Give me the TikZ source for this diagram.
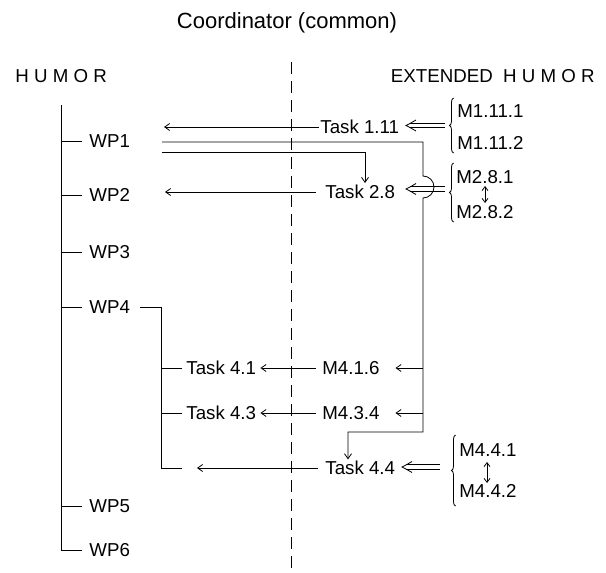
\documentclass[tikz,border=0pt]{standalone}
\usepackage{fontspec}
\setmainfont{Liberation Sans}
\usetikzlibrary{arrows.meta,decorations.pathreplacing}
\begin{document}
\begin{tikzpicture}[x=1pt,y=-1pt,line width=0.8pt,
  lbl/.style={inner sep=1.5pt,text height=13.4pt,text depth=0pt,font=\fontsize{18.7}{22}\selectfont},
  arr/.style={-{Straight Barb[length=5pt,width=7pt]}},
  brc/.style={decorate,decoration={brace,amplitude=4pt}},
  upd/.style={{Straight Barb[length=4pt,width=6pt]}-{Straight Barb[length=4pt,width=6pt]}},
  dsh/.style={dash pattern=on 12pt off 7pt}]
\useasboundingbox (0,0) rectangle (606,573);

% texts
\node[font=\fontsize{22}{26}\selectfont] (title) at (287,23) {Coordinator (common)};
\node[lbl,anchor=west] (humor) at (13.5,75.5) {H U M O R};
\node[lbl,anchor=east] (ext) at (596.5,75.5) {EXTENDED\ \ H U M O R};

\node[lbl,anchor=west] (wp1) at (87.5,141) {WP1};
\node[lbl,anchor=west] (wp2) at (87.5,195) {WP2};
\node[lbl,anchor=west] (wp3) at (87.5,252) {WP3};
\node[lbl,anchor=west] (wp4) at (87.5,307) {WP4};
\node[lbl,anchor=west] (wp5) at (87.5,506) {WP5};
\node[lbl,anchor=west] (wp6) at (87.5,550) {WP6};

\node[lbl,anchor=west] (t111) at (318.5,127) {Task 1.11};
\node[lbl,anchor=west] (t28) at (323.5,192) {Task 2.8};
\node[lbl,anchor=west] (t41) at (184.5,368) {Task 4.1};
\node[lbl,anchor=west] (m416) at (320.5,368) {M4.1.6};
\node[lbl,anchor=west] (t43) at (184.5,413) {Task 4.3};
\node[lbl,anchor=west] (m434) at (320.5,413) {M4.3.4};
\node[lbl,anchor=west] (t44) at (323.5,468) {Task 4.4};

\node[lbl,anchor=west] (m1111) at (455.5,111) {M1.11.1};
\node[lbl,anchor=west] (m1112) at (455.5,143) {M1.11.2};
\node[lbl,anchor=west] (m281) at (454.5,177) {M2.8.1};
\node[lbl,anchor=west] (m282) at (454.5,212) {M2.8.2};
\node[lbl,anchor=west] (m441) at (457.5,450) {M4.4.1};
\node[lbl,anchor=west] (m442) at (457.5,491) {M4.4.2};

% coordinates
\coordinate (treetop) at (61,105);
\coordinate (dashtop) at (291,62);
\coordinate (dashbot) at (291,573);
\coordinate (wp1in) at (164,127);
\coordinate (wp2in) at (165,192);
\coordinate (wp1a) at (162,142);
\coordinate (wp1b) at (162,152);
\coordinate (bus) at (423,142);
\coordinate (hop) at (423,176);
\coordinate (busbot) at (423,432);
\coordinate (drop44) at (348,432);
\coordinate (drop28) at (365,183);
\coordinate (wp4bus) at (161,307);
\coordinate (c44) at (182,468);
\coordinate (t44tip) at (197,468);
\coordinate (d1) at (445,125.5);
\coordinate (e1) at (406,125.5);
\coordinate (d2) at (445,189);
\coordinate (e2) at (406,189);
\coordinate (d3) at (440,467);
\coordinate (e3) at (402,467);

% dashed divider
\draw[dsh] (dashtop) -- (dashbot);

% HUMOR tree
\draw (treetop) |- ([xshift=-5.5pt]wp6.west);
\foreach \n in {wp1,wp2,wp3,wp4,wp5}
  \draw (treetop |- \n.west) -- ([xshift=-5.5pt]\n.west);
\draw ([xshift=8.5pt]wp4.east) -- (wp4bus) |- (c44);
\draw (wp4bus |- t41.west) -- ([xshift=-2.5pt]t41.west);
\draw (wp4bus |- t43.west) -- ([xshift=-2.5pt]t43.west);

% arrows to the left
\draw[arr] (t111.west) -- (wp1in);
\draw[arr] ([xshift=-8pt]t28.west) -- (wp2in);
\draw[arr] ([xshift=-5pt]m416.west) -- ([xshift=2.5pt]t41.east);
\draw[arr] ([xshift=-5pt]m434.west) -- ([xshift=2.5pt]t43.east);
\draw[arr] ([xshift=-5.5pt]t44.west) -- (t44tip);

% WP1 outgoing lines
\draw[arr] (wp1a) -- (bus) -- (hop) arc[start angle=-90,end angle=90,radius=11]
  -- (busbot) -- (drop44) -- (drop44 |- t44.north);
\draw[arr] (wp1b) -| (drop28);
\draw[arr] (bus |- m416.east) -- ([xshift=14pt]m416.east);
\draw[arr] (bus |- m434.east) -- ([xshift=14pt]m434.east);

% double arrows (implies)
\foreach \a/\b in {d1/e1,d2/e2,d3/e3}{
  \draw ([yshift=2.2pt]\a) -- ([xshift=4pt,yshift=2.2pt]\b);
  \draw ([yshift=-2.2pt]\a) -- ([xshift=4pt,yshift=-2.2pt]\b);
  \draw ([xshift=10pt,yshift=5.5pt]\b) .. controls ([xshift=4pt,yshift=2pt]\b) .. (\b)
        .. controls ([xshift=4pt,yshift=-2pt]\b) .. ([xshift=10pt,yshift=-5.5pt]\b);
}

% braces
\draw[brc] (453.5,153) -- (453.5,98);
\draw[brc] (453.5,222) -- (453.5,163);
\draw[brc] (455.5,506) -- (455.5,435);

% equivalence arrows
\draw[upd] (485,186) -- (485,203);
\draw[upd] (487,462) -- (487,483);
\end{tikzpicture}
\end{document}
